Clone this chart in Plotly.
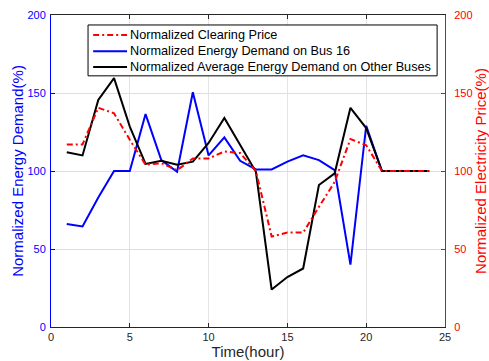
import plotly.graph_objects as go

hours = list(range(1, 25))

# Normalized clearing price (%)
price = [117, 117, 140.5, 137, 120, 104, 105, 100.5, 108, 108, 112.5, 111.5,
         100, 58, 60.5, 60.5, 77, 93, 120.5, 116.5, 100, 100, 100, 100]
# Normalized energy demand on bus 16 (%)
bus16 = [66, 64.5, 83, 100, 100, 136.5, 107, 99.5, 150.5, 110, 121.5, 106.5,
         101, 101, 106, 110, 107, 100.5, 40, 129, 100, 100, 100, 100]
# Normalized average energy demand on other buses (%)
others = [112, 110, 145.5, 159.5, 128.5, 104.5, 106.5, 104, 106, 118, 134, 116.5,
          99.5, 24, 32, 37.5, 91, 98.5, 140.5, 127.5, 100, 100, 100, 100]

series_names = ["Normalized Clearing Price",
                "Normalized Energy Demand on Bus 16",
                "Normalized Average Energy Demand on Other Buses"]

x_ticks = [0, 5, 10, 15, 20, 25]
y_ticks = [0, 50, 100, 150, 200]

FONT = "Liberation Sans, Arial, sans-serif"
BLUE = "#0000ff"
RED = "#ff0000"
GRAY = "#262626"

styles = [dict(color=RED, width=2, dash="6px,3px,2px,3px"),
          dict(color=BLUE, width=2, dash="solid"),
          dict(color="black", width=2, dash="solid")]

fig = go.Figure()
fig.add_trace(go.Scatter(x=hours, y=price, mode="lines", yaxis="y2",
                         name=series_names[0], line=styles[0]))
fig.add_trace(go.Scatter(x=hours, y=bus16, mode="lines",
                         name=series_names[1], line=styles[1]))
fig.add_trace(go.Scatter(x=hours, y=others, mode="lines",
                         name=series_names[2], line=styles[2]))

# Boxed legend in the upper part of the plot area
shapes = [dict(type="rect", xref="paper", yref="paper",
               x0=0.094, x1=0.98, y0=0.805, y1=0.968,
               line=dict(color="black", width=1), fillcolor="white",
               layer="above")]
annotations = []
row_y = [0.936, 0.884, 0.833]
for name, style, ry in zip(series_names, styles, row_y):
    shapes.append(dict(type="line", xref="paper", yref="paper",
                       x0=0.107, x1=0.193, y0=ry, y1=ry,
                       line=dict(color=style["color"], width=2,
                                 dash=style["dash"]), layer="above"))
    annotations.append(dict(text=name, xref="paper", yref="paper",
                            x=0.196, y=ry, xanchor="left", yanchor="middle",
                            showarrow=False,
                            font=dict(size=12.7, color="black", family=FONT)))

fig.update_layout(
    width=489, height=361,
    margin=dict(l=51, r=44, t=15, b=34),
    paper_bgcolor="white", plot_bgcolor="white",
    font=dict(family=FONT, size=11, color=GRAY),
    showlegend=False,
    shapes=shapes, annotations=annotations,
    xaxis=dict(range=[0, 25], tickvals=x_ticks, ticks="inside", ticklen=4,
               tickcolor=GRAY, showline=True, linecolor=GRAY, linewidth=1,
               mirror="ticks", showgrid=True, gridcolor="#e4e4e4",
               zeroline=False, automargin=False,
               tickfont=dict(size=11, color=GRAY),
               title=dict(text="Time(hour)", font=dict(size=15, color=GRAY),
                          standoff=3)),
    yaxis=dict(range=[0, 200], tickvals=y_ticks, ticks="inside", ticklen=4,
               tickcolor=BLUE, showline=True, linecolor=BLUE, linewidth=1,
               showgrid=True, gridcolor="#dadaff", zeroline=False,
               automargin=False, ticklabelstandoff=2,
               tickfont=dict(size=11, color=BLUE),
               title=dict(text="Normalized Energy Demand(%)",
                          font=dict(size=15, color=BLUE), standoff=0)),
    yaxis2=dict(range=[0, 200], tickvals=y_ticks, ticks="inside", ticklen=4,
                tickcolor=RED, overlaying="y", side="right", showline=True,
                linecolor=RED, linewidth=1, showgrid=False, zeroline=False,
                automargin=False, ticklabelstandoff=6,
                tickfont=dict(size=11, color=RED),
                title=dict(text="Normalized Electricity Price(%)",
                           font=dict(size=15, color=RED), standoff=0)),
)

fig.write_html("out.html")
